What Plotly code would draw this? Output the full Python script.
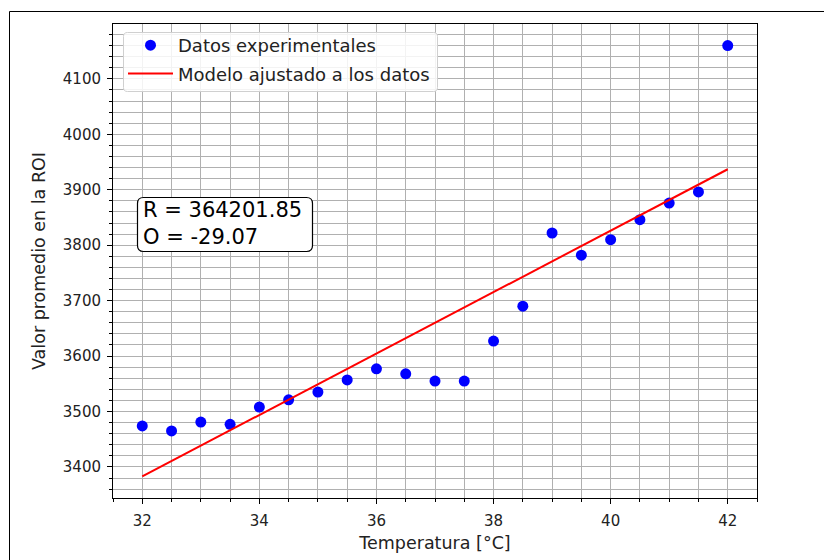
import plotly.graph_objects as go

temps = [32, 32.5, 33, 33.5, 34, 34.5, 35, 35.5, 36, 36.5, 37, 37.5, 38, 38.5, 39, 39.5, 40, 40.5, 41, 41.5, 42]
values = [3474, 3465, 3481, 3477, 3508, 3521, 3535, 3557, 3577, 3568, 3555, 3555, 3627, 3690, 3822, 3782, 3810, 3846, 3876, 3896, 4160]
model_t = [32, 42]
model_v = [3383, 3937]
annot_text = "R = 364201.85<br>O = -29.07"

W, H = 824, 560
L, R, T, B = 113, 757, 24, 498

def px(x):
    return (x - L) / (R - L)

def py(y):
    return (B - y) / (B - T)

def rounded_rect(x0, y0, x1, y1, r):
    pts = [
        ("M", [(x0 + r, y0)]),
        ("L", [(x1 - r, y0)]),
        ("Q", [(x1, y0), (x1, y0 + r)]),
        ("L", [(x1, y1 - r)]),
        ("Q", [(x1, y1), (x1 - r, y1)]),
        ("L", [(x0 + r, y1)]),
        ("Q", [(x0, y1), (x0, y1 - r)]),
        ("L", [(x0, y0 + r)]),
        ("Q", [(x0, y0), (x0 + r, y0)]),
    ]
    s = ""
    for cmd, ps in pts:
        s += cmd + " " + " ".join(f"{px(a):.5f},{py(b):.5f}" for a, b in ps) + " "
    return s + "Z"

font = "DejaVu Sans, Verdana, sans-serif"

fig = go.Figure()
fig.add_trace(go.Scatter(x=temps, y=values, mode="markers", name="Datos experimentales",
                         marker=dict(color="#0000ff", size=11), legendgroup="a"))
fig.add_trace(go.Scatter(x=model_t, y=model_v, mode="lines", name="Modelo ajustado a los datos",
                         line=dict(color="#ff0000", width=2), legendgroup="b"))

axis_common = dict(showline=True, linecolor="black", linewidth=1, mirror=True,
                   ticks="outside", ticklen=5, tickcolor="black", tickwidth=1,
                   showgrid=True, gridcolor="#b0b0b0", gridwidth=1, zeroline=False,
                   tickfont=dict(family=font, size=15, color="#222"))

fig.update_xaxes(range=[31.5, 42.5], dtick=2, tick0=32,
                 minor=dict(dtick=0.5, tick0=32, showgrid=True, gridcolor="#b0b0b0", gridwidth=1,
                            ticks="outside", ticklen=3, tickcolor="black"),
                 title=dict(text="Temperatura [°C]", font=dict(family=font, size=17.5, color="#222"), standoff=7),
                 ticklabelstandoff=4,
                 **axis_common)
fig.update_yaxes(range=[3344, 4199], dtick=100, tick0=3400,
                 minor=dict(dtick=20, tick0=3400, showgrid=True, gridcolor="#b0b0b0", gridwidth=1,
                            ticks="outside", ticklen=3, tickcolor="black"),
                 title=dict(text="Valor promedio en la ROI", font=dict(family=font, size=17.5, color="#222"), standoff=12),
                 ticklabelstandoff=3,
                 **axis_common)

# text box (rounded frame + text)
fig.add_shape(type="path", xref="paper", yref="paper", path=rounded_rect(137.5, 197.5, 312.5, 251.5, 6),
              line=dict(color="black", width=1.2), fillcolor="white", layer="above")
fig.add_annotation(x=px(141), y=py(223.5), xref="paper", yref="paper", xanchor="left", yanchor="middle",
                   text=annot_text, showarrow=False, align="left",
                   font=dict(family=font, size=21, color="black"))

# legend frame (rounded, light gray)
fig.add_shape(type="path", xref="paper", yref="paper", path=rounded_rect(123.5, 32.5, 437.5, 91.5, 4),
              line=dict(color="#d0d0d0", width=1), fillcolor="rgba(255,255,255,0.85)", layer="above")

# outer frame lines (figure border visible at left and top)
fig.add_shape(type="line", xref="paper", yref="paper", x0=px(9.5), x1=px(9.5), y0=py(11.5), y1=py(600),
              line=dict(color="black", width=1))
fig.add_shape(type="line", xref="paper", yref="paper", x0=px(9.5), x1=px(900), y0=py(11.5), y1=py(11.5),
              line=dict(color="black", width=1))

fig.update_layout(
    width=W, height=H,
    margin=dict(l=L, r=W - R, t=T, b=H - B),
    paper_bgcolor="white", plot_bgcolor="white",
    font=dict(family=font, size=13, color="#222"),
    legend=dict(x=px(123), y=py(27), xanchor="left", yanchor="top",
                bgcolor="rgba(0,0,0,0)", borderwidth=0,
                font=dict(family=font, size=18, color="#222"), tracegroupgap=2,
                traceorder="grouped", itemwidth=45),
    showlegend=True,
)

fig.write_html("out.html")
